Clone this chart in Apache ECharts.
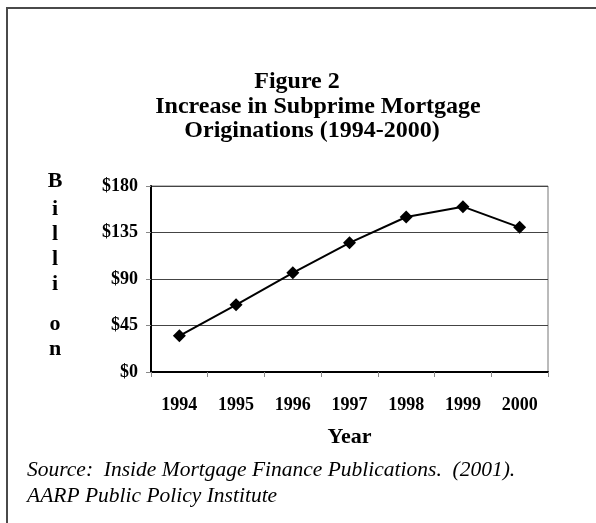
<!DOCTYPE html>
<html>
<head>
<meta charset="utf-8">
<script src="https://cdn.jsdelivr.net/npm/echarts@6/dist/echarts.min.js"></script>
<style>html,body{margin:0;padding:0;background:#fff;}#c{width:596px;height:523px;}</style>
</head>
<body>
<div id="c"></div>
<script>
var years = ['1994', '1995', '1996', '1997', '1998', '1999', '2000'];
var originations = [35, 65, 96, 125, 150, 160, 140];
var titleLines = ['Figure 2', 'Increase in Subprime Mortgage', 'Originations (1994-2000)'];
var yAxisLetters = ['B', 'i', 'l', 'l', 'i', 'o', 'n'];
var sourceLines = ['Source:  Inside Mortgage Finance Publications.  (2001).', 'AARP Public Policy Institute'];

var serif = '"Liberation Serif", "Times New Roman", serif';
var chart = echarts.init(document.getElementById('c'), null, {renderer: 'canvas'});

var graphics = [
  {type: 'rect', shape: {x: 7, y: 8, width: 800, height: 800}, style: {fill: 'none', stroke: '#4a4a4a', lineWidth: 2}, silent: true}
];
var titleX = [297, 318, 312];
var titleY = [82, 107, 131];
titleLines.forEach(function (t, i) {
  graphics.push({type: 'text', x: titleX[i], y: titleY[i], style: {text: t, font: 'bold 24px ' + serif, fill: '#000', textAlign: 'center', textVerticalAlign: 'middle'}});
});
var letterY = [181, 209, 234, 259, 284, 324, 349];
yAxisLetters.forEach(function (t, i) {
  graphics.push({type: 'text', x: 55, y: letterY[i], style: {text: t, font: 'bold 22px ' + serif, fill: '#000', textAlign: 'center', textVerticalAlign: 'middle'}});
});
sourceLines.forEach(function (t, i) {
  graphics.push({type: 'text', x: 27, y: 470 + i * 26, style: {text: t, font: 'italic 21.5px ' + serif, fill: '#000', textAlign: 'left', textVerticalAlign: 'middle'}});
});

chart.setOption({
  animation: false,
  backgroundColor: '#fff',
  grid: {left: 151, right: 48, top: 186, bottom: 151, show: true, borderColor: '#777', borderWidth: 1, backgroundColor: 'transparent'},
  xAxis: {
    type: 'category',
    data: years,
    boundaryGap: true,
    name: 'Year',
    nameLocation: 'middle',
    nameGap: 54,
    nameTextStyle: {fontFamily: serif, fontWeight: 'bold', fontSize: 22, color: '#000'},
    axisLine: {lineStyle: {color: '#000', width: 2}},
    axisTick: {show: true, inside: false, length: 5, alignWithLabel: false, lineStyle: {color: '#888', width: 1}},
    axisLabel: {fontFamily: serif, fontWeight: 'bold', fontSize: 18, color: '#000', margin: 24, interval: 0}
  },
  yAxis: {
    type: 'value',
    min: 0, max: 180, interval: 45,
    axisLine: {show: true, lineStyle: {color: '#000', width: 2}},
    axisTick: {show: true, inside: false, length: 5, lineStyle: {color: '#888', width: 1}},
    axisLabel: {fontFamily: serif, fontWeight: 'bold', fontSize: 18, color: '#000', margin: 13, formatter: function (v) { return '$' + v; }},
    splitLine: {show: true, lineStyle: {color: '#444', width: 1}}
  },
  series: [{
    type: 'line',
    data: originations,
    symbol: 'diamond',
    symbolSize: 13,
    lineStyle: {color: '#000', width: 2},
    itemStyle: {color: '#000'}
  }],
  graphic: graphics
});
</script>
</body>
</html>
